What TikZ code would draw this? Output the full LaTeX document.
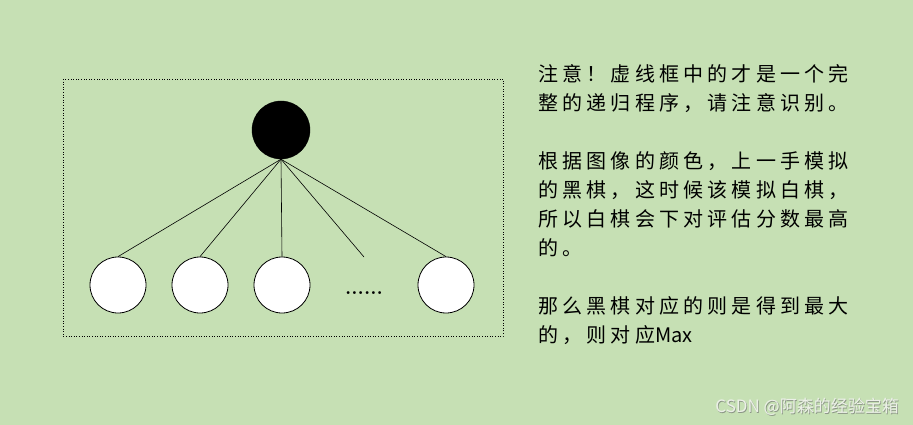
\documentclass[tikz,border=0pt]{standalone}
\usepackage{fontspec}
\newfontfamily\cjk[LetterSpace=21]{Noto Sans CJK SC}
\newfontfamily\cjkmark{Noto Sans CJK SC}
\usetikzlibrary{positioning}
\definecolor{paperColor}{RGB}{198,224,180}
\definecolor{markColor}{RGB}{236,240,232}
\definecolor{markShade}{RGB}{140,150,135}
\tikzstyle{board} = [x = 1pt, y = -1pt]
\tikzstyle{blackStone} = [circle, draw=black, fill=black, minimum size = 58pt, inner sep = 0pt]
\tikzstyle{whiteStone} = [circle, draw=black, thick, fill=white, minimum size = 56pt, inner sep = 0pt]
\tikzstyle{branch} = [color=black, semithick]
\tikzstyle{frameLine} = [color=black, dotted, line width = .6pt]
\tikzstyle{noteText} = [anchor = north west, inner sep = 0pt, align = left, font = \cjk\fontsize{20}{29}\selectfont]
\tikzstyle{markText} = [anchor = east, inner sep = 0pt, font = \cjkmark\fontsize{17}{20}\selectfont]

\begin{document}
\begin{tikzpicture}[board]
  \fill [paperColor] (0,0) rectangle (913,425);
  \useasboundingbox (0,0) rectangle (913,425);
  \draw [frameLine] (63,79) rectangle (503,336);

  % the black move and the white answers
  \node [blackStone] (root) at (281,130) {};
  \node [whiteStone] (leafA) at (118,285) {};
  \node [whiteStone] (leafB) at (200,285) {};
  \node [whiteStone] (leafC) at (282,285) {};
  \node [whiteStone] (leafD) at (446,285) {};
  \coordinate (gap) at (364,257);
  \node [font = \fontsize{20}{24}\selectfont\bfseries] (dots) at (364,293) {......};

  \foreach \leaf in {leafA,leafB,leafC,leafD} {
    \draw [branch] (root.south) -- (\leaf.north);
  }
  \draw [branch] (root.south) -- (gap);

  \node [noteText] (note) at (538,64) {注意！虚线框中的才是一个完\\整的递归程序，请注意识别。\\[29pt]根据图像的颜色，上一手模拟\\的黑棋，这时候该模拟白棋，\\所以白棋会下对评估分数最高\\的。\\[29pt]那么黑棋对应的则是得到最大\\的，则对应{\cjkmark Max}};

  \node [markText, text = markShade] (markShadow) at (899.8,407.8) {CSDN @阿森的经验宝箱};
  \node [markText, text = markColor] (mark) at (899,407) {CSDN @阿森的经验宝箱};
\end{tikzpicture}
\end{document}
